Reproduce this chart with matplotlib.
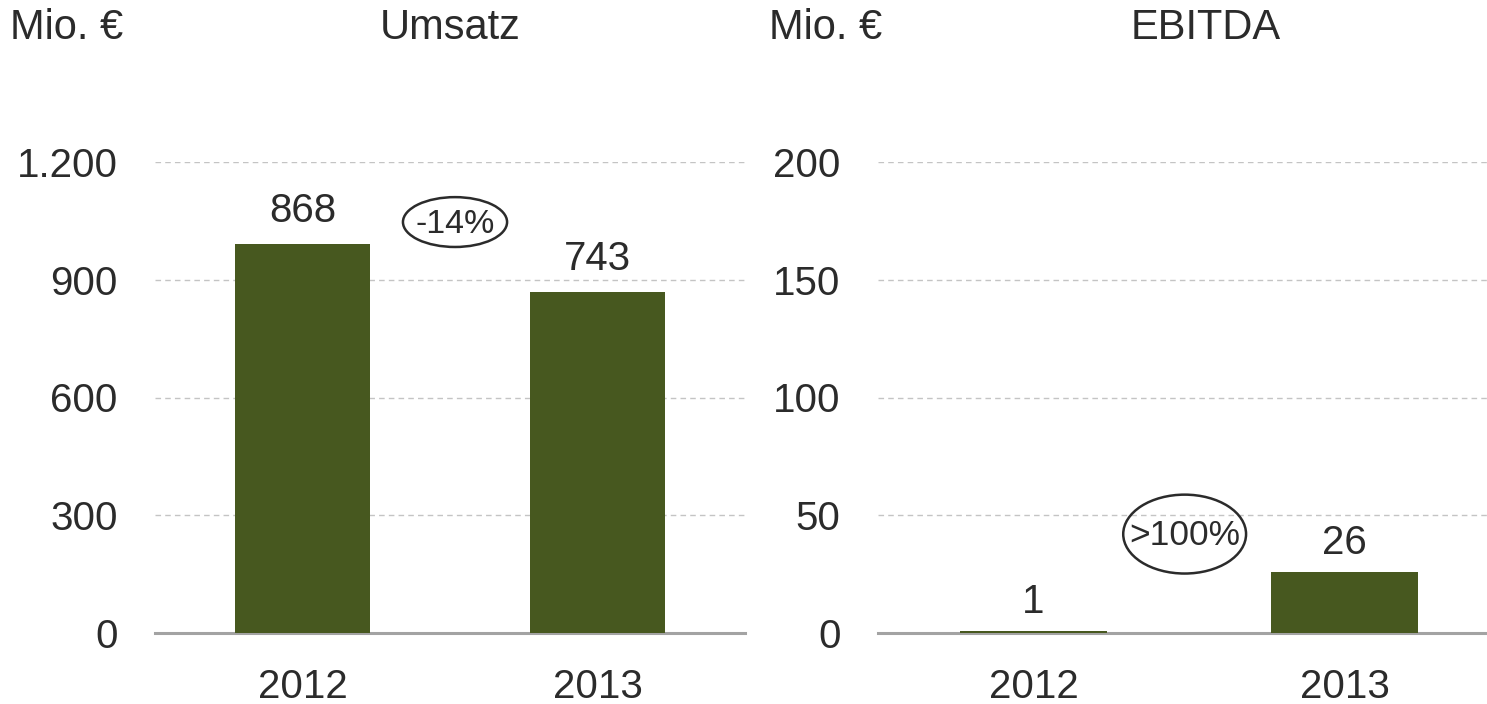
"""Umsatz und EBITDA 2012 vs. 2013 als zwei Balkendiagramme nebeneinander."""

import matplotlib.pyplot as plt
from matplotlib.patches import Ellipse

plt.rcParams['font.family'] = ['Liberation Sans', 'DejaVu Sans']

# Daten
years = ['2012', '2013']

umsatz_height = [991, 869]       # bar heights as drawn in the reference
umsatz_labels = ['868', '743']   # printed values
umsatz_ticks = [0, 300, 600, 900, 1200]
umsatz_tick_labels = ['0', '300', '600', '900', '1.200']
umsatz_change = '-14%'

ebitda_height = [1, 26]
ebitda_labels = ['1', '26']
ebitda_ticks = [0, 50, 100, 150, 200]
ebitda_tick_labels = ['0', '50', '100', '150', '200']
ebitda_change = '>100%'

bar_color = '#47581f'
text_color = '#2b2b2b'
grid_color = '#c4c4c4'
axis_color = '#a3a3a3'

W, H = 1487, 704
fig = plt.figure(figsize=(W / 100, H / 100), dpi=100)


def px_box(x0, x1, y_top, y_bottom):
    return [x0 / W, (H - y_bottom) / H, (x1 - x0) / W, (y_bottom - y_top) / H]


def bar_panel(ax, heights, labels, ticks, tick_labels, width, label_gap):
    ax.bar(range(len(years)), heights, width=width, color=bar_color, zorder=5)
    ax.set_xlim(-0.5, 1.5)
    ax.set_ylim(0, ticks[-1])
    ax.set_xticks(range(len(years)))
    ax.set_xticklabels(years)
    ax.set_yticks(ticks)
    ax.set_yticklabels(tick_labels)
    ax.tick_params(axis='both', length=0, labelsize=29, colors=text_color)
    ax.tick_params(axis='x', pad=25)
    ax.tick_params(axis='y', pad=27)
    for side in ['top', 'right', 'left']:
        ax.spines[side].set_visible(False)
    ax.spines['bottom'].set_color(axis_color)
    ax.spines['bottom'].set_linewidth(2.2)
    ax.spines['bottom'].set_zorder(4)
    ax.yaxis.grid(True, linestyle=(0, (4, 3)), color=grid_color, linewidth=1)
    ax.set_axisbelow(True)
    for i, (h, lab) in enumerate(zip(heights, labels)):
        ax.annotate(lab, (i, h), xytext=(0, label_gap), textcoords='offset points',
                    ha='center', va='bottom', fontsize=29, color=text_color)


# Umsatz
ax1 = fig.add_axes(px_box(155, 745, 162, 633))
bar_panel(ax1, umsatz_height, umsatz_labels, umsatz_ticks, umsatz_tick_labels, 0.46, 10)
ax1.add_patch(Ellipse((0.517, 1047), 0.353, 127, fill=False, edgecolor=text_color,
                      linewidth=1.8, zorder=6, clip_on=False))
ax1.text(0.517, 1040, umsatz_change, ha='center', va='center', fontsize=24.5,
         color=text_color, zorder=7)

# EBITDA
ax2 = fig.add_axes(px_box(878, 1500, 162, 633))
bar_panel(ax2, ebitda_height, ebitda_labels, ebitda_ticks, ebitda_tick_labels, 0.47, 7)
ax2.add_patch(Ellipse((0.486, 42), 0.395, 33.5, fill=False, edgecolor=text_color,
                      linewidth=1.8, zorder=6, clip_on=False))
ax2.text(0.486, 41.5, ebitda_change, ha='center', va='center', fontsize=25.5,
         color=text_color, zorder=7)

# Überschriften
title_y = 1 - 28 / H
fig.text(10 / W, title_y, 'Mio. €', ha='left', va='center', fontsize=30, color=text_color)
fig.text(450 / W, title_y, 'Umsatz', ha='center', va='center', fontsize=30, color=text_color)
fig.text(769 / W, title_y, 'Mio. €', ha='left', va='center', fontsize=30, color=text_color)
fig.text(1206 / W, title_y, 'EBITDA', ha='center', va='center', fontsize=30, color=text_color)

fig.savefig('out.png', dpi=100)
